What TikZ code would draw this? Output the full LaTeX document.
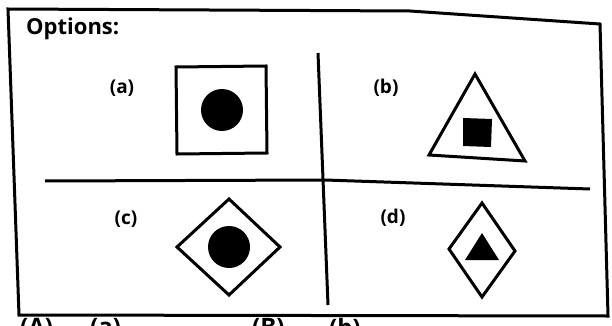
\documentclass[tikz,border=0pt]{standalone}
\usepackage{fontspec}
\setmainfont{Open Sans}
\usetikzlibrary{calc}
\tikzset{
  frame/.style={draw=black, line width=3pt, line join=miter},
  shp/.style={draw=black, line width=3pt, line join=miter},
  optlbl/.style={font=\bfseries\fontsize{19}{21}\selectfont, inner sep=0pt},
  headlbl/.style={font=\bfseries\fontsize{22}{25}\selectfont, inner sep=0pt, anchor=west},
  anslbl/.style={font=\bfseries\fontsize{24}{26}\selectfont, inner sep=0pt, anchor=north west}
}

\begin{document}
\begin{tikzpicture}[x=1pt, y=-1pt]
  \useasboundingbox (0,0) rectangle (612,326);
  \clip (0,0) rectangle (612,326);

  % outer frame
  \draw[frame] (8,9) -- (410,11) -- (600,24) -- (608,316) -- (19,315) -- cycle;
  \node[headlbl] (head) at (26,29) {Options:};

  % dividers
  \draw[frame] (318,53) -- (328,305);
  \draw[frame] (45,181) -- (325,180) -- (590,189);

  % option labels
  \foreach \nm/\x/\y/\t in {la/122/88/(a), lb/386/88/(b), lc/126/219/(c), ld/393/218/(d)}{
    \node[optlbl] (\nm) at (\x,\y) {\t};
  }

  % (a) square with disc
  \draw[shp] (176,67) -- (266,66) -- (267,153) -- (177,154) -- cycle;
  \fill (222,110) circle (21);

  % (b) triangle with square
  \draw[shp] (475,74) -- (525,161) -- (429,155) -- cycle;
  \fill (463,118) -- (492,119) -- (491,147) -- (463,146) -- cycle;

  % (c) diamond with disc
  \draw[shp] (229,199) -- (280,247) -- (229,295) -- (177,247) -- cycle;
  \fill (229,247) circle (21);

  % (d) diamond with triangle
  \draw[shp] (482,203) -- (515,251) -- (482,297) -- (449,249) -- cycle;
  \fill (482,233) -- (499,260) -- (465,260) -- cycle;

  % answer row, cut off by the page edge
  \node[anslbl] (ansA) at (20,318) {(A)};
  \node[anslbl] (ansa) at (90,318) {(a)};
  \node[anslbl] (ansB) at (252,318) {(B)};
  \node[anslbl] (ansb) at (329,318) {(b)};
\end{tikzpicture}
\end{document}
